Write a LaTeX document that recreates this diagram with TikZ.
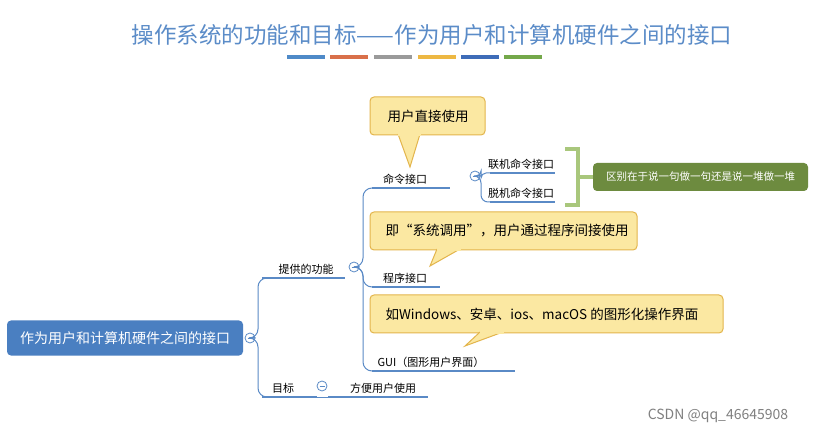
\documentclass[tikz,border=0pt]{standalone}
\usepackage{fontspec}
\setmainfont{Noto Sans CJK SC}
\usetikzlibrary{calc}
\definecolor{tblue}{HTML}{5B8CC8}
\definecolor{rootb}{HTML}{4A7FC1}
\definecolor{lineb}{HTML}{5A8AC6}
\definecolor{callf}{HTML}{FBE8A2}
\definecolor{calld}{HTML}{E3B54C}
\definecolor{gbox}{HTML}{6D8B3F}
\definecolor{gbr}{HTML}{A9C77C}
\tikzset{
 lbl/.style={font=\fontsize{11}{13}\selectfont, anchor=south, inner sep=2.5pt},
 uline/.style={lineb, line width=2.5pt},
 conn/.style={lineb, line width=1pt, rounded corners=9pt},
 tog/.style={circle, draw=lineb, line width=0.8pt, fill=white, minimum size=10pt, inner sep=0pt,
   path picture={\draw[lineb, line width=0.8pt] ([xshift=-2.5pt]path picture bounding box.center) -- ([xshift=2.5pt]path picture bounding box.center);}},
 callout/.style={draw=calld, fill=callf, line width=1pt, rounded corners=4pt},
 ctext/.style={font=\fontsize{13.5}{16}\selectfont, anchor=west}
}
\begin{document}
\begin{tikzpicture}[x=1pt,y=-1pt]
\useasboundingbox (0,0) rectangle (822,438);
\fill[white] (0,0) rectangle (822,438);
% title
\node[font=\fontsize{22.5}{26}\selectfont, text=tblue] (title) at (432,35) {操作系统的功能和目标——作为用户和计算机硬件之间的接口};
\foreach \x/\c in {287/4F8AC8,330/D9704A,374/9A9A9A,418/EDB843,461/3E6CB8,504/74A84A}{
 \definecolor{bc}{HTML}{\c}
 \fill[bc] (\x,55.5) rectangle ++(38,4);
}
% root
\node[fill=rootb, rounded corners=4pt, minimum width=236pt, minimum height=35pt, text=white, font=\fontsize{14}{16}\selectfont] (root) at (125,338) {作为用户和计算机硬件之间的接口};
\node[tog] (t0) at (250,338) {};
% level 1
\coordinate (u1a) at (262,278); \coordinate (u1b) at (345,278);
\coordinate (u2a) at (262,397); \coordinate (u2b) at (317,397);
\draw[conn] (t0.east) -- (258,338) |- (u1a);
\draw[conn] (t0.east) -- (258,338) |- (u2a);
\draw[uline] (u1a) -- (u1b); \draw[uline] (u2a) -- (u2b);
\node[lbl] (l1) at (306,277) {提供的功能};
\node[lbl] (l2) at (283,396) {目标};
\node[tog] (t1) at (354,267) {};
\coordinate (g1a) at (328,397); \coordinate (g1b) at (428,397);
\draw[lineb, line width=1pt] (u2b) -- (g1a);
\draw[uline] (g1a) -- (g1b);
\node[tog] (t2) at (322,386) {};
\node[lbl] (g1) at (383,396) {方便用户使用};
% level 2
\coordinate (a1) at (372,188); \coordinate (a2) at (450,188);
\coordinate (b1) at (372,287); \coordinate (b2) at (440,287);
\coordinate (c1) at (372,371); \coordinate (c2) at (515,371);
\draw[conn] (t1.east) -- (363,267) |- (a1);
\draw[conn] (t1.east) -- (363,267) |- (b1);
\draw[conn] (t1.east) -- (363,267) |- (c1);
\draw[uline] (a1) -- (a2); \draw[uline] (b1) -- (b2); \draw[uline] (c1) -- (c2);
\node[lbl] (la) at (405,187) {命令接口};
\node[lbl] (lb) at (405,286) {程序接口};
\node[lbl] (lc) at (431,370) {GUI（图形用户界面）};
\node[tog] (t3) at (475,176) {};
% level 3
\coordinate (d1) at (490,173); \coordinate (d2) at (555,173);
\coordinate (e1) at (490,202); \coordinate (e2) at (555,202);
\draw[conn, rounded corners=5pt] (t3.east) -- (481,176) |- (d1);
\draw[conn, rounded corners=7pt] (t3.east) -- (481,176) |- (e1);
\draw[uline] (d1) -- (d2); \draw[uline] (e1) -- (e2);
\node[lbl] (ld) at (521,172) {联机命令接口};
\node[lbl] (le) at (521,201) {脱机命令接口};
% bracket
\draw[gbr, line width=4pt] (565,149) -- (578,149) -- (578,205) -- (565,205);
\draw[gbr, line width=4pt] (578,177) -- (593,177);
\node[fill=gbox, rounded corners=4pt, minimum width=215pt, minimum height=28pt, text=white, font=\fontsize{10.5}{12}\selectfont] (diff) at (700.5,177) {区别在于说一句做一句还是说一堆做一堆};
% callouts
\draw[callout] (370,97) rectangle (485,135);
\draw[callout, rounded corners=0pt] (398,134) -- (410,167) -- (420,134);
\fill[callf] (397.5,133) rectangle (420.5,136.5);
\node[ctext] (k1) at (384,116) {用户直接使用};
\draw[callout] (370,212) rectangle (637,250);
\draw[callout, rounded corners=0pt] (437,249) -- (430,266) -- (460,249);
\fill[callf] (436.5,248) rectangle (460.5,251.5);
\node[ctext] (k2) at (382,231) {即“系统调用”，用户通过程序间接使用};
\draw[callout] (370,295) rectangle (723,333);
\draw[callout, rounded corners=0pt] (480,332) -- (465,346) -- (503,332);
\fill[callf] (479.5,331) rectangle (503.5,334.5);
\node[ctext] (k3) at (382,314) {如Windows、安卓、ios、macOS 的图形化操作界面};
% footer
\node[font=\fontsize{14}{16}\selectfont, text=gray] (csdn) at (718,416) {CSDN @qq\_46645908};
\end{tikzpicture}
\end{document}
